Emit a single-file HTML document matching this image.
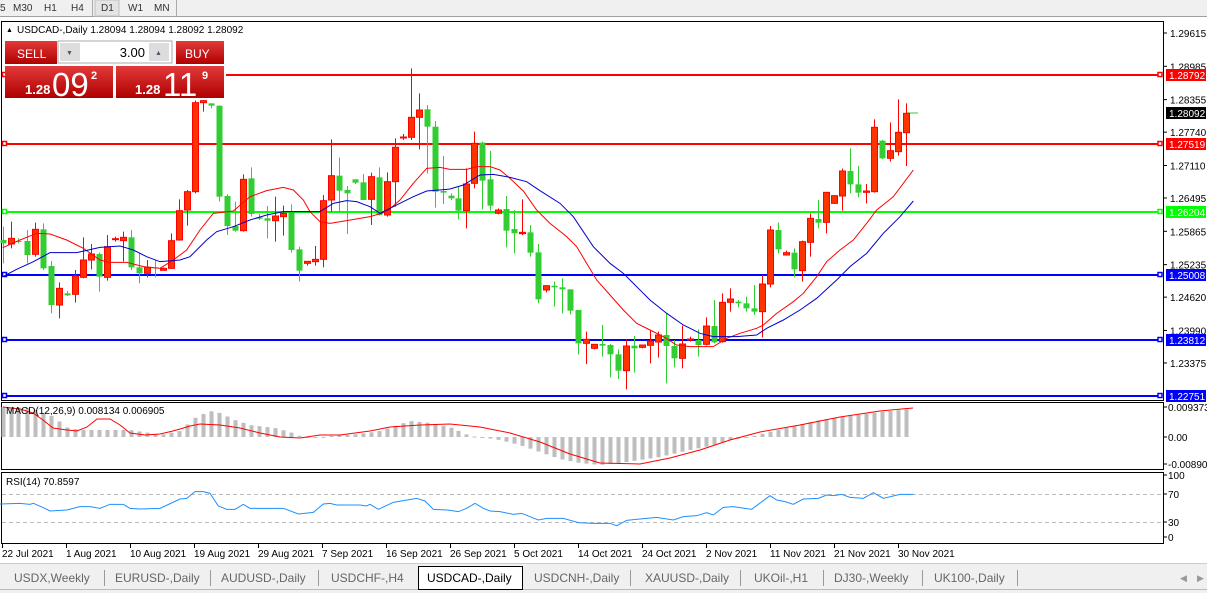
<!DOCTYPE html>
<html><head><meta charset="utf-8"><style>
body{margin:0;width:1207px;height:593px;overflow:hidden;background:#fff;font-family:"Liberation Sans",sans-serif}
svg{position:absolute;left:0;top:0}
text{font-family:"Liberation Sans",sans-serif}
</style></head><body>
<svg id="s" width="1207" height="593" xmlns="http://www.w3.org/2000/svg"></svg>
<script>
const S=document.getElementById('s');let h='';
h+='<rect x="0" y="0" width="1207" height="17" fill="#f0f0f0"/><line x1="0" y1="16.5" x2="1207" y2="16.5" stroke="#a0a0a0"/>';
h+='<rect x="95" y="0" width="24" height="16" fill="#e4e4e4" stroke="#c0c0c0"/>';
[['5',0],['M30',13],['H1',44],['H4',71],['D1',101],['W1',128],['MN',154]].forEach(t=>h+=`<text x="${t[1]}" y="11" font-size="10" fill="#333">${t[0]}</text>`);
[[92],[176]].forEach(t=>h+=`<line x1="${t[0]+.5}" y1="0" x2="${t[0]+.5}" y2="16" stroke="#aaa"/>`);
h+='<rect x="1.5" y="21.5" width="1162" height="379" fill="#fff" stroke="#000"/>';
h+='<rect x="1.5" y="402.5" width="1162" height="67" fill="#fff" stroke="#000"/>';
h+='<rect x="1.5" y="472.5" width="1162" height="71" fill="#fff" stroke="#000"/>';
const P=p=>33+(1.29615-p)*5288;
['1.29615','1.28985','1.28355','1.27740','1.27110','1.26495','1.25865','1.25235','1.24620','1.23990','1.23375'].forEach(v=>{const y=P(+v);h+=`<line x1="1164" y1="${y}" x2="1167" y2="${y}" stroke="#000"/><text x="1170" y="${y+4}" font-size="10">${v}</text>`});
[[75,'#f00','1.28792',226],[144,'#f00','1.27519',3],[212,'#0f0','1.26204',3],[275,'#00f','1.25008',3],[340,'#00f','1.23812',3],[396,'#00f','1.22751',3]].forEach(l=>{
h+=`<line x1="${l[3]}" y1="${l[0]}" x2="1160" y2="${l[0]}" stroke="${l[1]}" stroke-width="2"/>`;
h+=`<rect x="2.5" y="${l[0]-2.5}" width="4" height="4" fill="#fff" stroke="${l[1]}" stroke-width="1.5"/><rect x="1158" y="${l[0]-2.5}" width="4" height="4" fill="#fff" stroke="${l[1]}" stroke-width="1.5"/>`;
h+=`<rect x="1166" y="${l[0]-6}" width="40" height="12" fill="${l[1]}"/><text x="1169" y="${l[0]+4}" font-size="10" fill="#fff">${l[2]}</text>`;});
h+='<rect x="1166" y="107" width="40" height="12" fill="#000"/><text x="1169" y="117" font-size="10" fill="#fff">1.28092</text>';
h+='<line x1="906" y1="113" x2="918" y2="113" stroke="#3c3"/>';
const C=[[8,540,550,500,610,'g'],[32,535,552,485,565,'r'],[55,543,546,535,550,'g'],[80,543,585,510,610,'g'],[104,508,583,488,590,'r'],[128,508,625,490,630,'g'],[152,618,735,603,760,'g'],[176,685,735,667,775,'r'],[200,700,706,693,708,'g'],[224,648,703,630,728,'r'],[248,600,652,532,655,'r'],[272,582,600,552,628,'r'],[296,582,650,578,695,'g'],[320,560,652,525,662,'r'],[344,536,538,530,545,'r'],[368,532,542,515,605,'r'],[392,532,622,510,630,'g'],[416,622,640,580,670,'g'],[440,622,640,600,652,'r'],[464,622,625,600,652,'g'],[488,625,631,623,632,'r'],[512,542,625,520,627,'r'],[536,452,540,418,542,'r'],[560,395,450,390,497,'r'],[584,128,395,122,400,'r'],[608,122,128,120,155,'r'],[632,130,137,130,145,'g'],[656,137,410,137,425,'g'],[680,408,498,403,525,'g'],[704,498,512,425,515,'g'],[728,358,512,343,515,'r'],[752,355,462,322,470,'g'],[776,472,476,462,480,'g'],[800,475,482,438,535,'g'],[824,468,482,410,545,'r'],[848,460,470,437,527,'r'],[872,458,570,433,578,'g'],[896,568,632,560,665,'g'],[920,604,610,604,617,'r'],[944,598,605,558,617,'r'],[968,422,598,405,622,'r'],[992,347,420,238,455,'r'],[1016,347,392,293,455,'g'],[1040,390,400,378,522,'g'],[1064,358,368,358,372,'g'],[1088,367,420,342,420,'g'],[1112,350,418,338,495,'r'],[1136,352,465,322,467,'g'],[1160,365,465,337,470,'r'],[1184,262,365,235,440,'r'],[1208,231,233,222,240,'r'],[1232,172,232,25,240,'r'],[1256,150,172,100,268,'r'],[1280,148,200,135,340,'g'],[1304,200,395,183,443,'g'],[1328,393,398,288,432,'g'],[1352,407,415,400,420,'g']];
const C5=[[25,415,452,380,478,'g'],[48,372,452,325,505,'r'],[72,250,370,215,385,'r'],[96,248,362,245,448,'g'],[120,358,437,273,452,'g'],[145,450,460,445,463,'r'],[169,447,512,408,562,'g'],[193,507,520,450,580,'g'],[217,517,521,418,525,'r'],[241,517,578,495,590,'g'],[265,577,718,552,730,'g'],[289,677,690,677,697,'r'],[313,677,682,665,740,'g'],[337,682,688,655,760,'g'],[361,688,752,688,763,'g'],[385,750,850,750,883,'g'],[409,838,850,815,912,'r'],[433,853,865,853,868,'r'],[457,852,857,795,890,'g'],[481,855,883,852,952,'g'],[505,883,932,868,957,'g'],[529,858,932,838,988,'r'],[553,857,865,828,938,'g'],[577,855,862,855,865,'r'],[601,843,856,810,910,'r'],[625,825,846,815,893,'r'],[649,825,858,760,970,'g'],[673,858,895,840,922,'g'],[697,852,895,797,925,'r'],[721,837,839,830,845,'r'],[745,840,855,808,890,'g'],[769,798,853,772,856,'r'],[793,798,847,720,850,'g'],[817,727,845,700,848,'r'],[841,717,727,685,755,'r'],[865,725,730,720,742,'g'],[889,730,745,710,755,'g'],[913,745,755,675,765,'g'],[937,672,755,645,832,'r'],[961,510,672,498,682,'r'],[985,510,568,487,580,'g'],[1009,578,585,572,587,'r'],[1033,578,628,565,652,'g'],[1057,545,632,542,665,'r'],[1081,475,547,460,590,'r'],[1105,477,488,420,505,'g'],[1129,397,487,397,520,'r'],[1153,407,430,405,432,'r'],[1177,333,408,326,452,'r'],[1201,333,373,265,400,'g'],[1225,373,398,318,412,'g'],[1249,393,397,372,430,'r'],[1273,202,395,178,398,'r'],[1297,242,295,240,297,'g'],[1321,272,295,187,305,'r'],[1345,217,275,118,287,'r'],[1369,160,218,130,318,'r']];
C5.forEach(c=>C.push([c[0]+1350,c[1],c[2],c[3],c[4],c[5]]));
const X=v=>v/3,Y=v=>v/3+60;
const xs=[];
C.forEach(c=>{const x=Math.round(X(c[0]))+.5;xs.push(x);const col=c[5]=='g'?'#32cd32':'#f00';const fill=c[5]=='g'?'#32cd32':'#ff3300';
h+=`<line x1="${x}" y1="${Y(c[3])}" x2="${x}" y2="${Y(c[4])}" stroke="${col}"/>`;
let t=Y(c[1]),b=Math.max(Y(c[2]),t+1);h+=`<rect x="${x-3}" y="${t}" width="6" height="${b-t}" fill="${fill}" stroke="${col}" stroke-width="${c[5]=='g'?0:1}"/>`;});
function pl(a,fx,fy,col,w){return `<polyline fill="none" stroke="${col}" stroke-width="${w||1}" points="${a.map(p=>fx(p[0])+','+fy(p[1])).join(' ')}"/>`;}
const add5=a=>a.map(p=>[p[0]+1350,p[1]]);
const red=[[8,563],[60,540],[110,520],[150,522],[200,540],[250,565],[300,600],[330,607],[380,607],[430,620],[480,625],[520,600],[560,570],[600,510],[640,460],[700,453],[750,410],[800,392],[850,382],[880,390],[910,420],[930,455],[960,485],[990,490],[1040,482],[1110,470],[1160,455],[1200,420],[1240,370],[1280,325],[1320,322]].concat(add5([[0,328],[50,328],[80,320],[120,320],[150,330],[180,355],[220,393],[260,450],[300,490],[350,530],[380,560],[410,610],[440,660],[480,705],[520,750],[560,790],[600,810],[640,830],[680,855],[720,860],[790,860],[830,835],[870,820],[920,805],[940,795],[980,760],[1030,725],[1060,700],[1100,650],[1130,605],[1170,570],[1210,540],[1250,490],[1280,450],[1330,410],[1390,330]]));
const blue=[[8,650],[50,628],[100,605],[150,578],[230,578],[300,562],[360,558],[400,570],[440,590],[480,605],[540,600],[570,590],[620,540],[650,515],[700,500],[750,480],[800,465],[850,455],[960,455],[1000,430],[1040,422],[1070,425],[1110,440],[1140,460],[1200,430],[1240,410],[1280,393],[1340,388]].concat(add5([[0,387],[40,375],[90,345],[130,343],[180,352],[230,365],[270,392],[330,430],[370,470],[430,560],[480,610],[520,640],[560,680],[600,720],[650,760],[700,795],[750,820],[790,830],[860,830],[920,825],[950,805],[1000,780],[1050,750],[1100,715],[1160,660],[1200,620],[1250,580],[1300,520],[1350,470],[1390,423]]));
h+=pl(red,X,Y,'#f00')+pl(blue,X,Y,'#0000cc');
h+='<defs><linearGradient id="rg" x1="0" y1="0" x2="0" y2="1"><stop offset="0" stop-color="#e23a3a"/><stop offset="1" stop-color="#b00000"/></linearGradient></defs>';
h+='<rect x="5" y="41" width="52" height="23" fill="url(#rg)"/><rect x="176" y="41" width="48" height="23" fill="url(#rg)"/>';
h+='<rect x="5" y="66" width="108" height="32" fill="url(#rg)"/><rect x="116" y="66" width="108" height="32" fill="url(#rg)"/>';
h+='<rect x="58" y="41" width="114" height="22" fill="#fff" stroke="#aaa"/><rect x="60" y="43" width="20" height="18" fill="#ddd"/><rect x="149" y="43" width="20" height="18" fill="#ddd"/>';
h+='<text x="66" y="55" font-size="7" fill="#557">▼</text><text x="155" y="55" font-size="7" fill="#557">▲</text><text x="145" y="57" font-size="13" text-anchor="end">3.00</text>';
h+='<text x="17" y="58" font-size="12" fill="#fff">SELL</text><text x="185" y="58" font-size="12" fill="#fff">BUY</text>';
h+='<text x="25" y="94" font-size="13" font-weight="bold" fill="#fff">1.28</text><text x="52" y="96" font-size="33" fill="#fff">09</text><text x="91" y="79" font-size="11" font-weight="bold" fill="#fff">2</text>';
h+='<text x="135" y="94" font-size="13" font-weight="bold" fill="#fff">1.28</text><text x="163" y="96" font-size="33" fill="#fff">11</text><text x="202" y="79" font-size="11" font-weight="bold" fill="#fff">9</text>';
h+='<text x="6" y="32" font-size="7">▲</text><text x="17" y="33" font-size="10">USDCAD-,Daily  1.28094 1.28094 1.28092 1.28092</text>';
const mh=[[3,407],[30,408],[50,415],[58,420],[65,427],[80,430],[130,430],[150,433],[160,435],[180,431],[195,418],[210,411],[220,413],[235,420],[250,425],[275,428],[290,432],[300,436],[315,438],[330,436],[360,434],[380,431],[410,421],[430,423],[450,427],[470,436],[480,437],[500,440],[520,445],[540,452],[560,459],[580,463],[600,465],[620,463],[640,460],[660,457],[690,450],[710,446],[730,440],[750,437],[770,432],[790,427],[820,420],[850,416],[880,412],[920,408]];
function interp(a,x){for(let i=1;i<a.length;i++)if(x<=a[i][0]){const t=(x-a[i-1][0])/(a[i][0]-a[i-1][0]);return a[i-1][1]+t*(a[i][1]-a[i-1][1]);}return a[a.length-1][1];}
xs.forEach(x=>{const y=interp(mh,x);const t=Math.min(y,437),b=Math.max(y,437);h+=`<rect x="${x-2}" y="${t}" width="4" height="${Math.max(b-t,1)}" fill="#bebebe"/>`;});
const sig2=[[3,407],[20,409],[33,413],[43,420],[53,428],[67,430],[77,431],[87,427],[97,419],[110,419],[120,425],[130,433],[145,435],[160,434],[173,431],[180,429],[190,426],[200,424],[220,425],[240,428],[260,433],[280,437],[300,438],[320,435],[340,435],[355,433],[370,431],[390,427],[420,425],[450,424],[480,427],[510,433],[540,442],[570,454],[600,463],[640,464],[670,458],[700,450],[730,440],[760,432],[800,425],[840,417],[880,411],[913,408]];
h+=pl(sig2,x=>x,y=>y,'#f00');
h+='<text x="6" y="414" font-size="10">MACD(12,26,9) 0.008134 0.006905</text>';
[[407,'0.009373'],[437,'0.00'],[464,'-0.008903']].forEach(t=>h+=`<line x1="1164" y1="${t[0]}" x2="1167" y2="${t[0]}" stroke="#000"/><text x="1168" y="${t[0]+4}" font-size="10">${t[1]}</text>`);
h+='<line x1="2" y1="494.5" x2="1163" y2="494.5" stroke="#bbb" stroke-dasharray="4,3"/><line x1="2" y1="522.5" x2="1163" y2="522.5" stroke="#bbb" stroke-dasharray="4,3"/>';
const r1=[[0,327],[60,325],[90,328],[100,325],[130,338],[150,348],[200,345],[240,335],[270,335],[300,340],[330,328],[370,328],[390,340],[420,342],[480,340],[540,312],[560,310],[585,290],[610,290],[630,295],[655,333],[680,343],[705,343],[730,328],[750,340],[850,340],[895,357],[940,352],[970,327],[990,325],[1010,330],[1080,330],[1100,333],[1110,328],[1135,343],[1180,322],[1250,310],[1275,318],[1300,343],[1340,345]].concat(add5([[0,346],[25,350],[50,340],[75,325],[100,340],[120,348],[150,350],[190,358],[215,355],[240,365],[265,375],[290,370],[340,370],[385,383],[430,385],[480,385],[500,392],[530,376],[570,372],[620,367],[670,375],[700,365],[740,362],[770,353],[790,360],[820,337],[850,335],[905,343],[960,302],[980,315],[1005,320],[1030,328],[1060,312],[1105,310],[1130,300],[1150,302],[1175,298],[1200,307],[1240,310],[1270,293],[1300,310],[1350,298],[1390,298]]));
h+=pl(r1,X,y=>y/3+395,'#1e90ff');
h+='<text x="6" y="485" font-size="10">RSI(14) 70.8597</text>';
[[475,'100'],[494,'70'],[522,'30'],[537,'0']].forEach(t=>h+=`<line x1="1164" y1="${t[0]}" x2="1167" y2="${t[0]}" stroke="#000"/><text x="1168" y="${t[0]+4}" font-size="10">${t[1]}</text>`);
[['22 Jul 2021',2],['1 Aug 2021',66],['10 Aug 2021',130],['19 Aug 2021',194],['29 Aug 2021',258],['7 Sep 2021',322],['16 Sep 2021',386],['26 Sep 2021',450],['5 Oct 2021',514],['14 Oct 2021',578],['24 Oct 2021',642],['2 Nov 2021',706],['11 Nov 2021',770],['21 Nov 2021',834],['30 Nov 2021',898]].forEach(d=>h+=`<line x1="${d[1]+.5}" y1="544" x2="${d[1]+.5}" y2="548" stroke="#000"/><text x="${d[1]}" y="557" font-size="10">${d[0]}</text>`);
h+='<rect x="0" y="563" width="1207" height="30" fill="#f0f0f0"/><line x1="0" y1="563.5" x2="1207" y2="563.5" stroke="#ccc"/><line x1="0" y1="589.5" x2="1207" y2="589.5" stroke="#bbb"/>';
h+='<rect x="418.5" y="566.5" width="104" height="23" fill="#fff" stroke="#000"/>';
[['USDX,Weekly',14],['EURUSD-,Daily',115],['AUDUSD-,Daily',221],['USDCHF-,H4',331],['USDCAD-,Daily',427],['USDCNH-,Daily',534],['XAUUSD-,Daily',645],['UKOil-,H1',754],['DJ30-,Weekly',834],['UK100-,Daily',934]].forEach((t,i)=>{h+=`<text x="${t[1]}" y="582" font-size="12" fill="${i==4?'#000':'#666'}">${t[0]}</text>`;});
[104,210,318,630,740,823,922,1017].forEach(x=>h+=`<line x1="${x+.5}" y1="570" x2="${x+.5}" y2="586" stroke="#999"/>`);
h+='<text x="1180" y="581" font-size="9" fill="#999">◀</text><text x="1197" y="581" font-size="9" fill="#999">▶</text>';
S.innerHTML=h;
</script>
</body></html>
